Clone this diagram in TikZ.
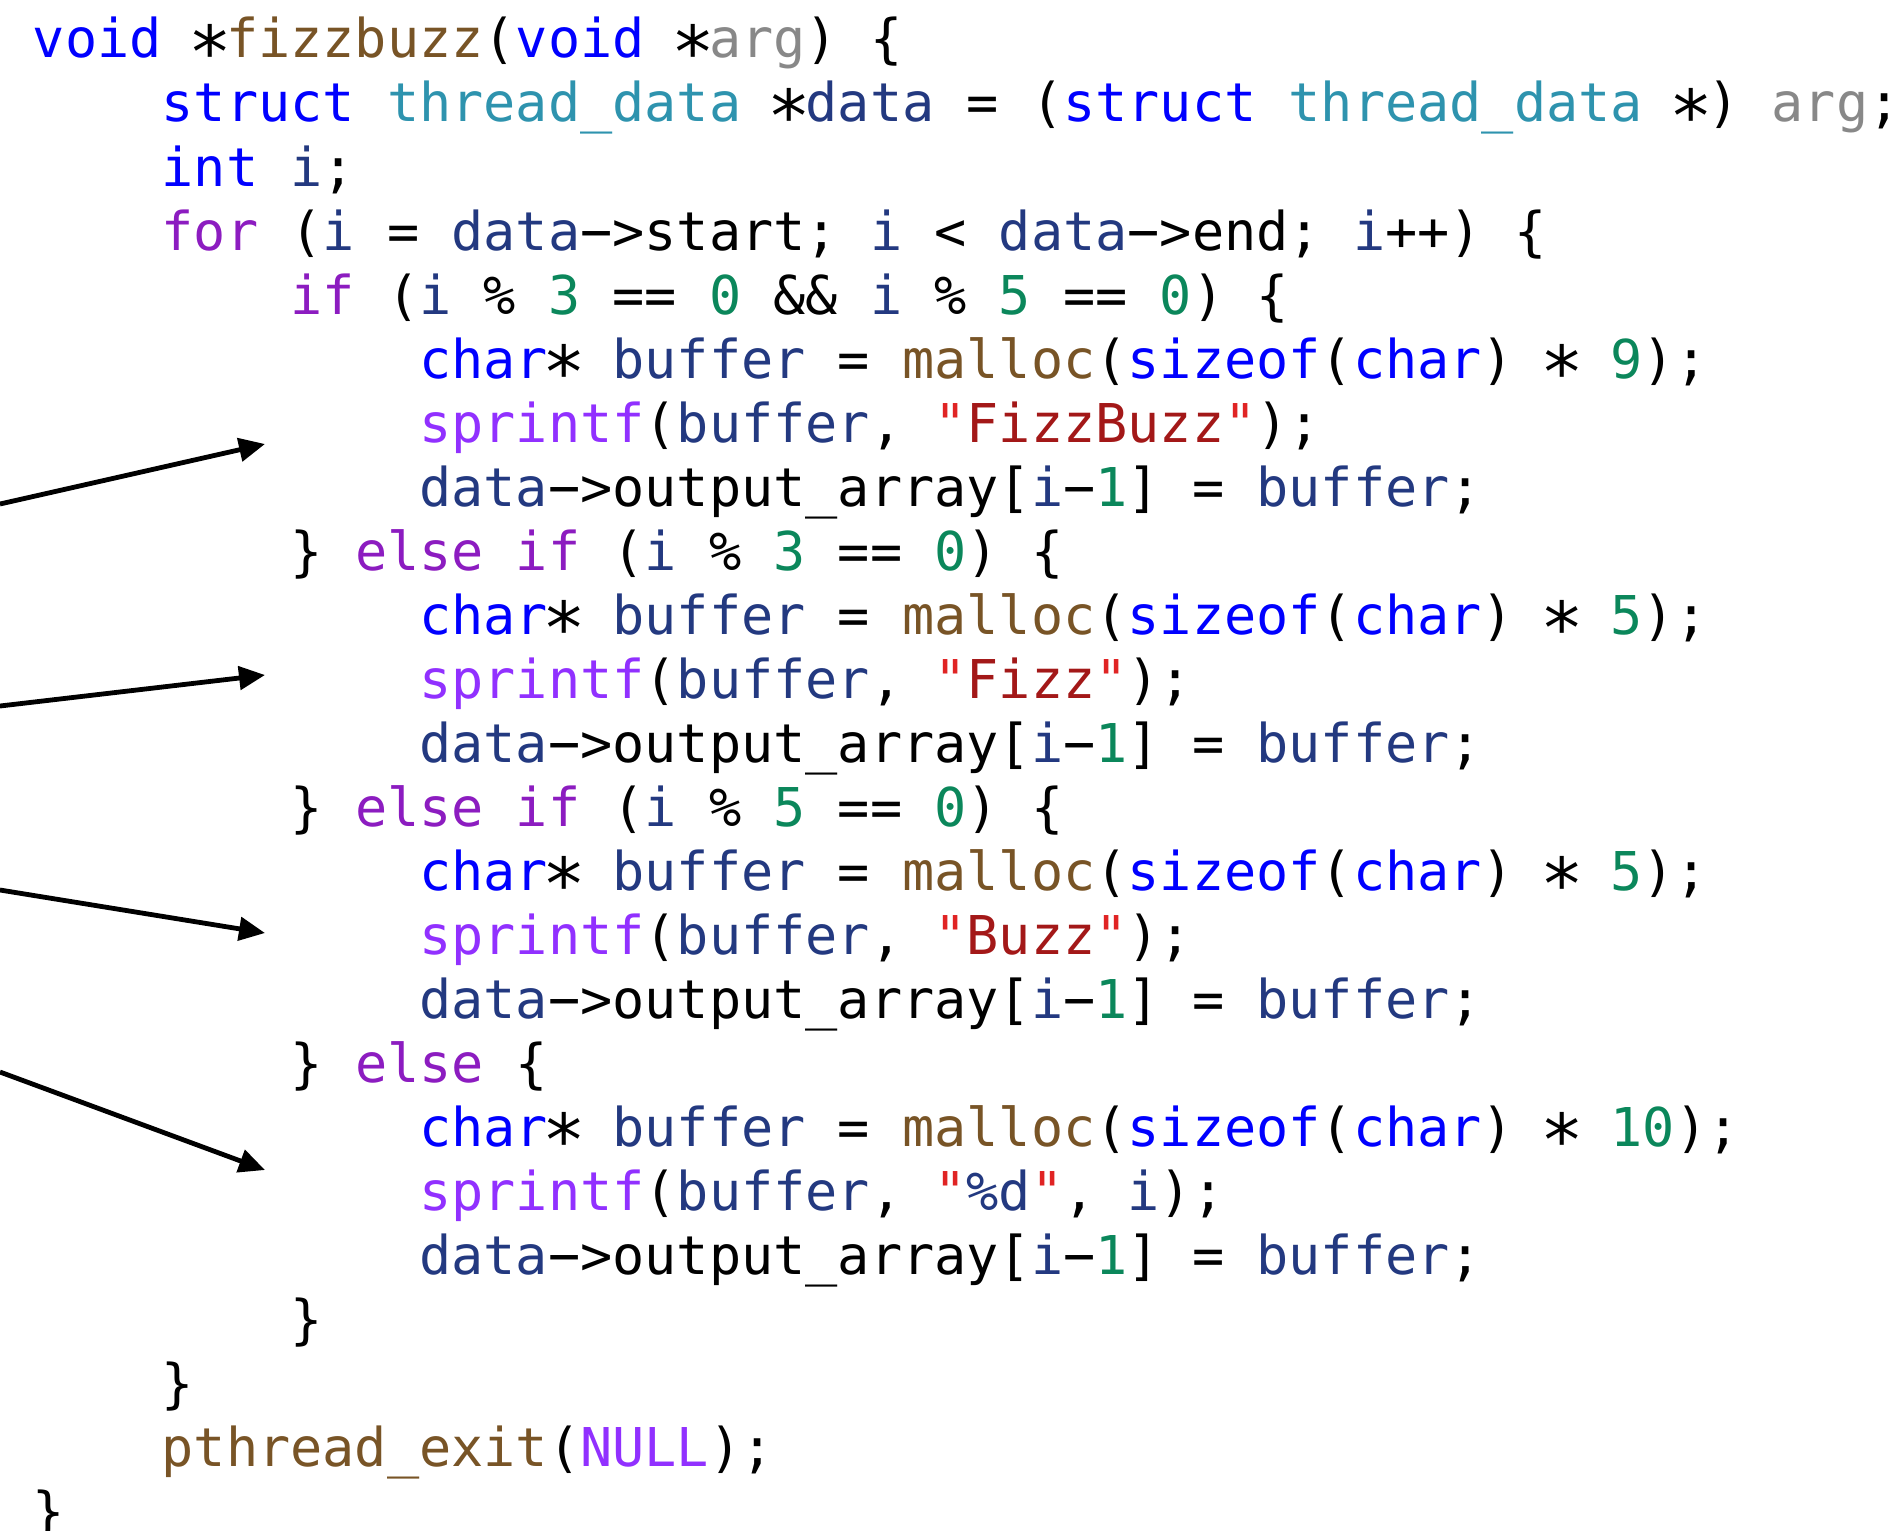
\documentclass[tikz,border=0pt]{standalone}
\usepackage{fontspec}
\usepackage{graphicx}
\setmonofont{DejaVu Sans Mono}
\usetikzlibrary{arrows.meta}

% syntax colours
\definecolor{kwblue}{HTML}{0000FF}
\definecolor{ctlpurple}{HTML}{8C1CC0}
\definecolor{fnbrown}{HTML}{785426}
\definecolor{pargray}{HTML}{888888}
\definecolor{typeteal}{HTML}{2E93AE}
\definecolor{varnavy}{HTML}{233980}
\definecolor{numgreen}{HTML}{0B875B}
\definecolor{sysviolet}{HTML}{9130FF}
\definecolor{strred}{HTML}{A31818}
\definecolor{quotered}{HTML}{E02424}

\newcommand\cKw[1]{\textcolor{kwblue}{#1}}
\newcommand\cCt[1]{\textcolor{ctlpurple}{#1}}
\newcommand\cFn[1]{\textcolor{fnbrown}{#1}}
\newcommand\cPa[1]{\textcolor{pargray}{#1}}
\newcommand\cTy[1]{\textcolor{typeteal}{#1}}
\newcommand\cVa[1]{\textcolor{varnavy}{#1}}
\newcommand\cNu[1]{\textcolor{numgreen}{#1}}
\newcommand\cSy[1]{\textcolor{sysviolet}{#1}}
\newcommand\cSt[1]{\textcolor{quotered}{"}\textcolor{strred}{#1}\textcolor{quotered}{"}}
% pointer star (one column wide, enlarged) and arrow operator
\newcommand\cStar{\makebox[0.602em]{\raisebox{-0.1em}{\scalebox{1.35}{∗}}}}
\newcommand\cArrow{−>}

\begin{document}
\begin{tikzpicture}[x=0.25pt, y=-0.25pt,
  codeline/.style={anchor=base west, inner sep=0pt, outer sep=0pt,
    font=\ttfamily\fontsize{13.37}{16}\selectfont, text=black},
  pointer/.style={line width=1.2pt, -{Triangle[length=6.5pt, width=5.8pt]}}]
  \useasboundingbox (0,0) rectangle (1901,1530);
  \clip (0,0) rectangle (1901,1530);

  % indentation columns: 0, 4, 8 and 12 characters of 32.2 px each
  \def\cA{33}
  \def\cB{161.8}
  \def\cC{290.6}
  \def\cD{419.4}

  \node[codeline] (l1)  at (\cA, 58)  {\cKw{void} \cStar\cFn{fizzbuzz}(\cKw{void} \cStar\cPa{arg}) \{};
  \node[codeline] (l2)  at (\cB, 122) {\cKw{struct} \cTy{thread\_data} \cStar\cVa{data} = (\cKw{struct} \cTy{thread\_data} \cStar) \cPa{arg};};
  \node[codeline] (l3)  at (\cB, 186) {\cKw{int} \cVa{i};};
  \node[codeline] (l4)  at (\cB, 250) {\cCt{for} (\cVa{i} = \cVa{data}\cArrow start; \cVa{i} < \cVa{data}\cArrow end; \cVa{i}++) \{};
  \node[codeline] (l5)  at (\cC, 314) {\cCt{if} (\cVa{i} \% \cNu{3} == \cNu{0} \&\& \cVa{i} \% \cNu{5} == \cNu{0}) \{};
  \node[codeline] (l6)  at (\cD, 378) {\cKw{char}\cStar{} \cVa{buffer} = \cFn{malloc}(\cKw{sizeof}(\cKw{char}) \cStar{} \cNu{9});};
  \node[codeline] (l7)  at (\cD, 442) {\cSy{sprintf}(\cVa{buffer}, \cSt{FizzBuzz});};
  \node[codeline] (l8)  at (\cD, 506) {\cVa{data}\cArrow output\_array[\cVa{i}−\cNu{1}] = \cVa{buffer};};
  \node[codeline] (l9)  at (\cC, 570) {\} \cCt{else} \cCt{if} (\cVa{i} \% \cNu{3} == \cNu{0}) \{};
  \node[codeline] (l10) at (\cD, 634) {\cKw{char}\cStar{} \cVa{buffer} = \cFn{malloc}(\cKw{sizeof}(\cKw{char}) \cStar{} \cNu{5});};
  \node[codeline] (l11) at (\cD, 698) {\cSy{sprintf}(\cVa{buffer}, \cSt{Fizz});};
  \node[codeline] (l12) at (\cD, 762) {\cVa{data}\cArrow output\_array[\cVa{i}−\cNu{1}] = \cVa{buffer};};
  \node[codeline] (l13) at (\cC, 826) {\} \cCt{else} \cCt{if} (\cVa{i} \% \cNu{5} == \cNu{0}) \{};
  \node[codeline] (l14) at (\cD, 890) {\cKw{char}\cStar{} \cVa{buffer} = \cFn{malloc}(\cKw{sizeof}(\cKw{char}) \cStar{} \cNu{5});};
  \node[codeline] (l15) at (\cD, 954) {\cSy{sprintf}(\cVa{buffer}, \cSt{Buzz});};
  \node[codeline] (l16) at (\cD, 1018) {\cVa{data}\cArrow output\_array[\cVa{i}−\cNu{1}] = \cVa{buffer};};
  \node[codeline] (l17) at (\cC, 1082) {\} \cCt{else} \{};
  \node[codeline] (l18) at (\cD, 1146) {\cKw{char}\cStar{} \cVa{buffer} = \cFn{malloc}(\cKw{sizeof}(\cKw{char}) \cStar{} \cNu{10});};
  \node[codeline] (l19) at (\cD, 1210) {\cSy{sprintf}(\cVa{buffer}, \textcolor{quotered}{"}\textcolor{varnavy}{\%d}\textcolor{quotered}{"}, \cVa{i});};
  \node[codeline] (l20) at (\cD, 1274) {\cVa{data}\cArrow output\_array[\cVa{i}−\cNu{1}] = \cVa{buffer};};
  \node[codeline] (l21) at (\cC, 1338) {\}};
  \node[codeline] (l22) at (\cB, 1402) {\}};
  \node[codeline] (l23) at (\cB, 1466) {\cFn{pthread\_exit}(\cSy{NULL});};
  \node[codeline] (l24) at (\cA, 1530) {\}};

  % arrows entering from the left edge towards each branch
  \coordinate (s1) at (0, 504);   \coordinate (t1) at (265, 444);
  \coordinate (s2) at (0, 706);   \coordinate (t2) at (265, 675);
  \coordinate (s3) at (0, 890);   \coordinate (t3) at (265, 933);
  \coordinate (s4) at (0, 1072);  \coordinate (t4) at (265, 1170);
  \draw[pointer] (s1) -- (t1);
  \draw[pointer] (s2) -- (t2);
  \draw[pointer] (s3) -- (t3);
  \draw[pointer] (s4) -- (t4);
\end{tikzpicture}
\end{document}
